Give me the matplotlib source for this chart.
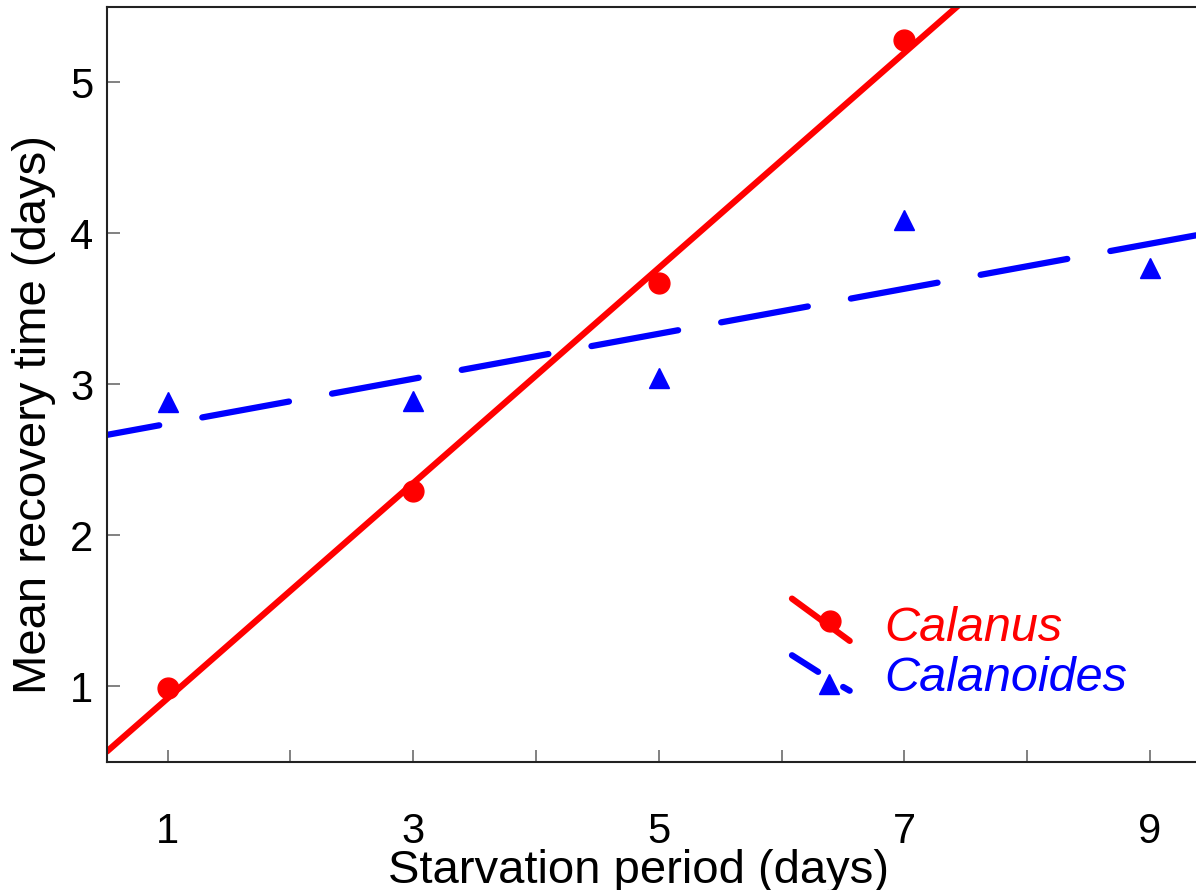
import numpy as np
import matplotlib
matplotlib.use("Agg")
import matplotlib.pyplot as plt

# ---- data ----
starvation_calanus = [1, 3, 5, 7]
recovery_calanus = [0.99, 2.29, 3.67, 5.28]
starvation_calanoides = [1, 3, 5, 7, 9]
recovery_calanoides = [2.88, 2.89, 3.04, 4.09, 3.77]
x_ticklabels = ["1", "3", "5", "7", "9"]
y_ticks = [1, 2, 3, 4, 5]
legend_labels = ["Calanus", "Calanoides"]

RED = "#ff0000"
BLUE = "#0000ff"
FONT = ["Liberation Sans", "DejaVu Sans"]
plt.rcParams["font.family"] = FONT

fig = plt.figure(figsize=(11.96, 8.9), dpi=100)
ax = fig.add_axes([107 / 1196, 128.3 / 890, 1089 / 1196, 755 / 890])
xlim = (0.506, 9.375)
ax.set_xlim(*xlim)
ax.set_ylim(0.5, 5.5)

# regression lines from the data
xx = np.array(xlim)
b_red = np.polyfit(starvation_calanus, recovery_calanus, 1)
b_blue = np.polyfit(starvation_calanoides, recovery_calanoides, 1)
lw = 4.5
ax.plot(xx, np.polyval(b_red, xx), color=RED, lw=lw, solid_capstyle="round", zorder=2)
ax.plot(xx, np.polyval(b_blue, xx), color=BLUE, lw=lw,
        linestyle=(5.6, (14.1, 7.0)), dash_capstyle="round", zorder=2)

ax.plot(starvation_calanus, recovery_calanus, "o", color=RED, ms=15, mec=RED, zorder=3)
ax.plot(starvation_calanoides, recovery_calanoides, "^", color=BLUE, ms=15, mec=BLUE, zorder=3)

# axes styling
ax.spines["right"].set_visible(False)
for s in ["left", "bottom", "top"]:
    ax.spines[s].set_linewidth(1.5)
    ax.spines[s].set_color("#222222")
ax.set_xticks([1, 3, 5, 7, 9])
ax.set_xticklabels(x_ticklabels)
ax.set_xticks([2, 4, 6, 8], minor=True)
ax.set_yticks(y_ticks)
ax.set_yticklabels([str(v) for v in y_ticks])
ax.tick_params(axis="both", which="both", direction="in", length=9, width=1.3,
               color="#777777", labelsize=30, top=False, right=False)
ax.tick_params(axis="x", which="major", pad=36)
ax.tick_params(axis="y", which="major", pad=10)

ax.set_xlabel("Starvation period (days)", fontsize=34)
ax.xaxis.set_label_coords(0.4885, -0.115)
ax.set_ylabel("Mean recovery time (days)", fontsize=34)
ax.yaxis.set_label_coords(-0.047, 0.46)

# legend (drawn manually: diagonal line samples)
T = ax.transAxes
ax.plot([0.629, 0.682], [0.216, 0.160], color=RED, lw=lw, solid_capstyle="round",
        transform=T, clip_on=False, zorder=4)
ax.plot([0.664], [0.186], "o", color=RED, ms=15, transform=T, clip_on=False, zorder=5)
ax.plot([0.629, 0.653], [0.141, 0.119], color=BLUE, lw=lw, solid_capstyle="round",
        transform=T, clip_on=False, zorder=4)
ax.plot([0.676, 0.682], [0.099, 0.094], color=BLUE, lw=lw, solid_capstyle="round",
        transform=T, clip_on=False, zorder=4)
ax.plot([0.663], [0.103], "^", color=BLUE, ms=15, transform=T, clip_on=False, zorder=5)
ax.text(0.714, 0.1605, legend_labels[0], color=RED, fontsize=35, style="italic",
        va="baseline", ha="left", transform=T)
ax.text(0.714, 0.094, legend_labels[1], color=BLUE, fontsize=35, style="italic",
        va="baseline", ha="left", transform=T)

fig.savefig("out.png", dpi=100)
